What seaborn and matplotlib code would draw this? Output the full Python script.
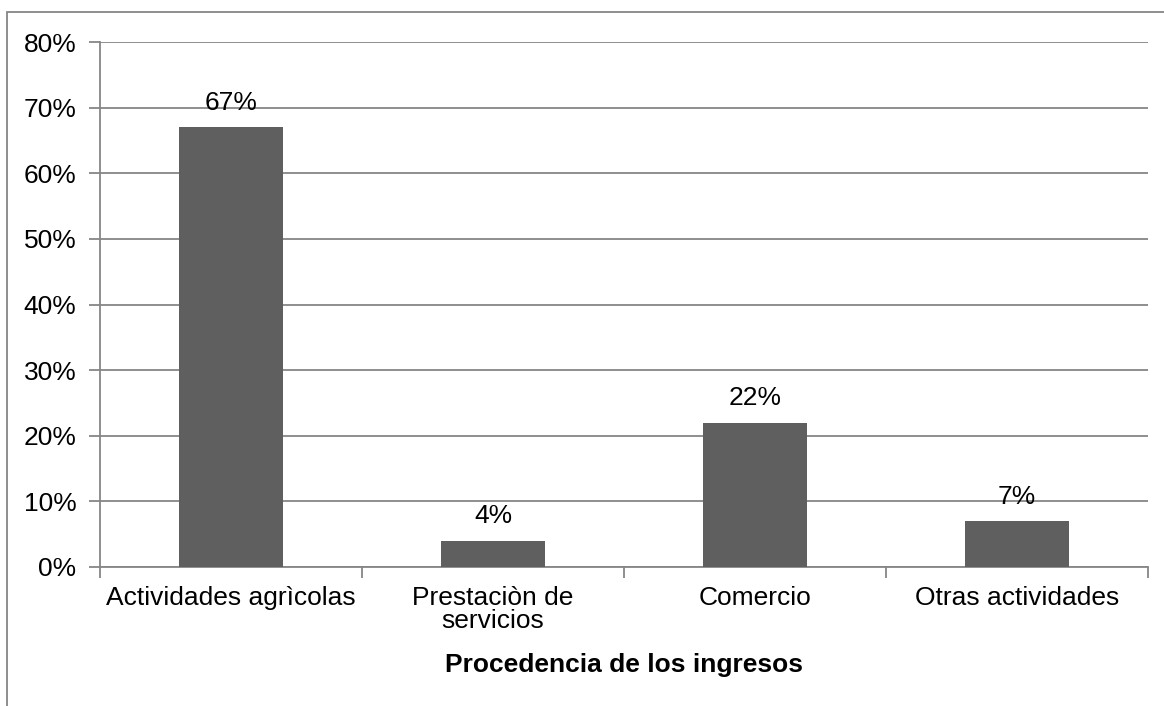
import matplotlib
matplotlib.use("Agg")
import matplotlib.pyplot as plt
import matplotlib.patches as mpatches
import seaborn as sns
import pandas as pd

categorias = ["Actividades agrìcolas", "Prestaciòn de\nservicios", "Comercio", "Otras actividades"]
porcentajes = [67, 4, 22, 7]
yticks = [0, 10, 20, 30, 40, 50, 60, 70, 80]

df = pd.DataFrame({"Procedencia": categorias, "Porcentaje": porcentajes})

sns.set_style("white")
plt.rcParams["font.family"] = ["Liberation Sans", "DejaVu Sans"]
plt.rcParams["text.color"] = "black"
plt.rcParams["xtick.color"] = "black"
plt.rcParams["ytick.color"] = "black"
plt.rcParams["axes.labelcolor"] = "black"

fs = 19

fig = plt.figure(figsize=(11.64, 7.06), dpi=100)
ax = fig.add_axes([100 / 1164, 1 - 567 / 706, 1048 / 1164, 525 / 706])

gris = "#868686"
sns.barplot(data=df, x="Procedencia", y="Porcentaje", color="#5f5f5f",
            saturation=1, width=0.4, linewidth=0, ax=ax, zorder=3)

ax.set_ylim(0, 80)
ax.set_xlim(-0.5, 3.5)
ax.set_yticks(yticks)
ax.set_yticklabels([f"{v}%" for v in yticks])
ax.yaxis.grid(True, color=gris, linewidth=1.3, zorder=0)
ax.set_axisbelow(True)

for s in ["top", "right"]:
    ax.spines[s].set_visible(False)
for s in ["left", "bottom"]:
    ax.spines[s].set_color(gris)
    ax.spines[s].set_linewidth(1.3)

ax.tick_params(axis="y", length=8, width=1.3, color=gris, labelcolor="black",
               labelsize=fs, pad=9, left=True)
ax.set_xticks(range(len(categorias)))
ax.set_xticklabels(categorias, fontsize=fs, linespacing=0.95)
ax.tick_params(axis="x", length=0, pad=14, labelsize=fs, labelcolor="black")
ax.set_xticks([-0.5, 0.5, 1.5, 2.5, 3.5], minor=True)
ax.tick_params(axis="x", which="minor", length=8, width=1.3, color=gris, bottom=True)

for i, v in enumerate(porcentajes):
    ax.annotate(f"{v}%", (i, v), xytext=(0, 9), textcoords="offset points",
                ha="center", va="bottom", fontsize=fs)

ax.set_xlabel("Procedencia de los ingresos", fontsize=fs, fontweight="bold", labelpad=14)
ax.set_ylabel("")

borde = mpatches.Rectangle((7 / 1164, -0.1), 1.1, 1.1 - 12 / 706, transform=fig.transFigure,
                           fill=False, edgecolor=gris, linewidth=1.3)
fig.patches.append(borde)

fig.savefig("out.png", dpi=100)
